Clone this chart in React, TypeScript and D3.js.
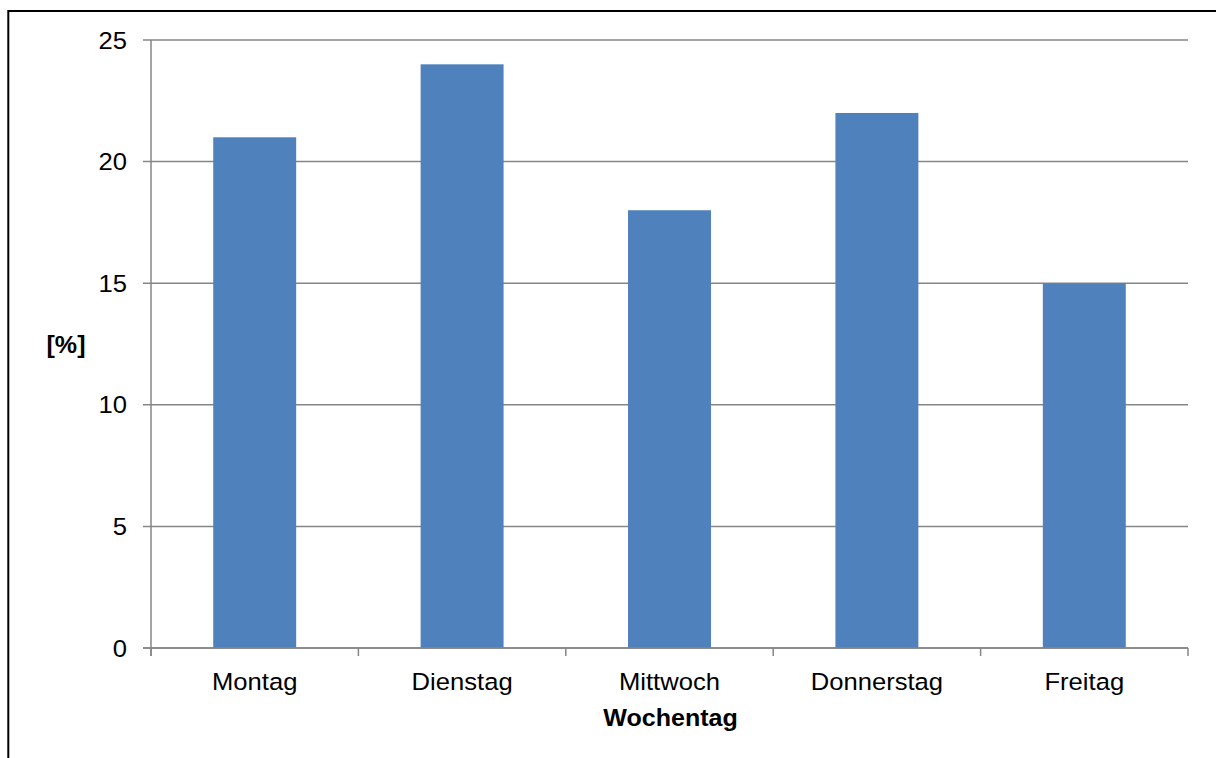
import React from "react";
import * as d3 from "d3";

const days = ["Montag", "Dienstag", "Mittwoch", "Donnerstag", "Freitag"];
const shares = [21, 24, 18, 22, 15];
const yTicks = [0, 5, 10, 15, 20, 25];

const W = 1216;
const H = 758;
const plot = { left: 151, right: 1188, top: 40, bottom: 648 };
const FONT = "'Liberation Sans', Arial, sans-serif";
const STRETCH = 1.09;

export default function App() {
  const x = d3
    .scaleBand<string>()
    .domain(days)
    .range([plot.left, plot.right])
    .paddingInner(0.6)
    .paddingOuter(0.3);
  const band = d3.scaleBand<string>().domain(days).range([plot.left, plot.right]);
  const y = d3.scaleLinear().domain([0, 25]).range([plot.bottom, plot.top]);

  const gridColor = "#868686";
  const boundaries = d3.range(days.length + 1).map((i) => plot.left + i * band.step());

  const label = (
    tx: number,
    ty: number,
    text: string,
    anchor: "start" | "middle" | "end",
    size: number,
    weight: string | number = "normal",
    key?: string | number
  ) => (
    <text
      key={key}
      transform={`translate(${tx},${ty}) scale(${STRETCH},1)`}
      textAnchor={anchor}
      fontFamily={FONT}
      fontSize={size}
      fontWeight={weight}
      fill="#000"
    >
      {text}
    </text>
  );

  return (
    <svg
      width={W}
      height={H}
      style={{ position: "absolute", left: 0, top: 0, background: "#fff" }}
    >
      {/* outer frame (extends past the right and bottom edges) */}
      <rect x={8.3} y={11} width={W + 20} height={H + 20} fill="none" stroke="#000" strokeWidth={2} />

      {/* horizontal gridlines */}
      {yTicks.map((t) => (
        <line
          key={`g${t}`}
          x1={plot.left - 8}
          x2={plot.right}
          y1={y(t)}
          y2={y(t)}
          stroke={gridColor}
          strokeWidth={1.5}
        />
      ))}

      {/* bars */}
      {days.map((d, i) => (
        <rect
          key={d}
          x={x(d)!}
          y={y(shares[i])}
          width={x.bandwidth()}
          height={y(0) - y(shares[i])}
          fill="#4F81BD"
        />
      ))}

      {/* axes */}
      <line x1={plot.left} x2={plot.left} y1={plot.top} y2={plot.bottom + 8} stroke={gridColor} strokeWidth={1.5} />
      <line x1={plot.left - 8} x2={plot.right} y1={plot.bottom} y2={plot.bottom} stroke={gridColor} strokeWidth={1.5} />
      {boundaries.map((bx, i) => (
        <line key={`t${i}`} x1={bx} x2={bx} y1={plot.bottom} y2={plot.bottom + 8} stroke={gridColor} strokeWidth={1.5} />
      ))}

      {/* y tick labels */}
      {yTicks.map((t) => label(127, y(t) + 8.5, String(t), "end", 23.5, "normal", `l${t}`))}

      {/* x tick labels */}
      {days.map((d) => label(band(d)! + band.bandwidth() / 2, 689.5, d, "middle", 23.5, "normal", `x${d}`))}

      {/* axis titles */}
      {label((plot.left + plot.right) / 2 + 1, 726, "Wochentag", "middle", 23, "bold")}
      {label(66, 353, "[%]", "middle", 23, "bold")}
    </svg>
  );
}
